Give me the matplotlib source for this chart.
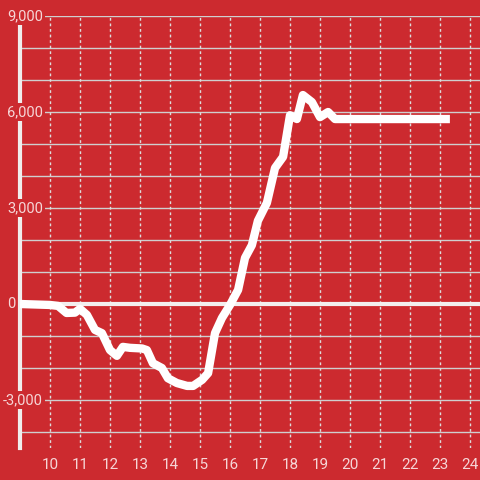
import matplotlib.pyplot as plt
from matplotlib.transforms import blended_transform_factory

# 数据（时间：小时；数值）
hours = [9.0, 10.0, 10.27, 10.55, 10.83, 11.0, 11.23, 11.5, 11.73, 12.0,
         12.23, 12.43, 12.67, 13.07, 13.23, 13.43, 13.73, 13.93, 14.23, 14.57,
         14.77, 15.07, 15.27, 15.5, 15.73, 16.0, 16.27, 16.5, 16.73, 16.93,
         17.23, 17.5, 17.77, 18.0, 18.23, 18.43, 18.73, 19.0, 19.27, 19.5,
         23.33]
values = [0, -30, -60, -280, -270, -150, -340, -810, -910, -1440,
          -1620, -1340, -1370, -1390, -1440, -1850, -2000, -2320, -2470, -2560,
          -2560, -2370, -2160, -910, -440, -30, 440, 1440, 1840, 2600,
          3160, 4250, 4600, 5900, 5780, 6530, 6310, 5840, 6000, 5780,
          5780]

x_ticks = list(range(10, 25))
y_grid = list(range(-4000, 9001, 1000))
y_labels = [-3000, 0, 3000, 6000, 9000]

bg = '#cc2a2f'
txt = '#f6d6d7'

plt.rcParams['font.family'] = ['Roboto', 'DejaVu Sans']

fig = plt.figure(figsize=(4.8, 4.8), dpi=100, facecolor=bg)
ax = fig.add_axes([20 / 480, 32 / 480, 460 / 480, 432 / 480])
ax.set_facecolor(bg)
ax.set_xlim(9, 9 + 460 / 30)
ax.set_ylim(-4500, 9000)

# 网格
for y in y_grid:
    if y != 0:
        ax.axhline(y, color='#cfcfcf', lw=1, zorder=1)
for x in x_ticks:
    ax.axvline(x, color='#dddddd', lw=1, ls=(0, (2, 2)), zorder=1)
ax.axhline(0, color='#f3eeee', lw=3, zorder=2)

# 数据线
ax.plot(hours, values, color='white', lw=6, solid_joinstyle='round',
        solid_capstyle='butt', zorder=5)

# 坐标轴
for s in ['top', 'right', 'bottom']:
    ax.spines[s].set_visible(False)
ax.spines['left'].set_color('#f0eded')
ax.spines['left'].set_linewidth(3)
ax.spines['left'].set_bounds(-4500, 8750)
ax.set_xticks(x_ticks)
ax.set_xticklabels([str(t) for t in x_ticks])
ax.tick_params(axis='x', length=0, pad=7, colors=txt, labelsize=11)
ax.set_yticks([])

# y轴标签（左对齐，带背景色遮住轴线）
tr = blended_transform_factory(fig.transFigure, ax.transData)
for y in y_labels:
    x0 = 3 if y < 0 else 7
    ax.text(x0 / 480, y, f'{y:,}', transform=tr, ha='left', va='center',
            color=txt, fontsize=10.5, clip_on=False, zorder=10,
            bbox=dict(facecolor=bg, edgecolor='none', pad=1.5))

fig.savefig('out.png', dpi=100, facecolor=bg)
